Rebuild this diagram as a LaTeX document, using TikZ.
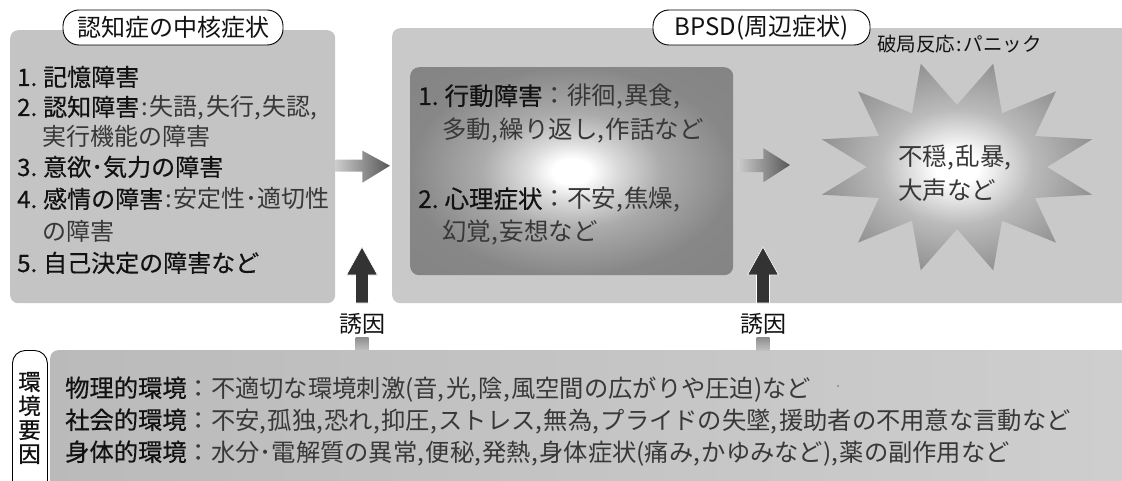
\documentclass[tikz,border=0pt]{standalone}
\usepackage{fontspec}
\setmainfont{Noto Sans CJK JP}
\newfontfamily\jpb{Noto Sans CJK JP}[FakeBold=0.5]
\usetikzlibrary{calc}
\definecolor{inkd}{gray}{0.07}
\definecolor{inkl}{gray}{0.22}
\definecolor{panelL}{gray}{0.77}
\definecolor{panelM}{gray}{0.79}
\definecolor{glowA}{gray}{0.86}
\definecolor{glowB}{gray}{0.67}
\definecolor{glowC}{gray}{0.53}
\definecolor{glowD}{gray}{0.50}
\definecolor{starB}{gray}{0.73}
\definecolor{starC}{gray}{0.58}
\pgfdeclareradialshading{innerglow}{\pgfpoint{0bp}{0bp}}{color(0bp)=(white); color(3bp)=(white); color(7bp)=(glowA); color(14bp)=(glowB); color(25bp)=(glowC); color(50bp)=(glowD)}
\pgfdeclareradialshading{starglow}{\pgfpoint{0bp}{0bp}}{color(0bp)=(white); color(4bp)=(white); color(14bp)=(starB); color(25bp)=(starC); color(50bp)=(starC)}
\newcommand\cma{\makebox[0.34em][l]{,}}
\newcommand\cln{\makebox[0.45em][c]{:}}
\newcommand\emp[1]{{\jpb\color{inkd}#1}}
\begin{document}
\begin{tikzpicture}[x=1pt,y=-1pt,
  panel/.style={rounded corners=8pt, inner sep=0pt, anchor=north west},
  tab/.style={draw=black, line width=0.9pt, fill=white, rounded corners=16pt, inner sep=0pt, minimum height=35pt, text=inkd, font=\fontsize{24}{28}\selectfont},
  txt/.style={inner sep=0pt, anchor=base west, text=inkl, font=\fontsize{24}{28}\selectfont},
  envtxt/.style={inner sep=0pt, anchor=base west, text=inkl, font=\fontsize{24.3}{28}\selectfont},
  smalltxt/.style={inner sep=0pt, anchor=base west, text=inkd, font=\fontsize{19.5}{24}\selectfont},
  cause/.style={inner sep=0pt, text=inkd, font=\fontsize{23}{24}\selectfont},
  uparrow/.style={fill=black!80, draw=white, line width=0.6pt},
  flowarrow/.style={left color=black!20, right color=black!66, draw=none},
  tick/.style={top color=black!45, bottom color=black!25}
]
\useasboundingbox (0,0) rectangle (1122,481);
\clip (0,0) rectangle (1122,481);

% panels
\node[panel, fill=panelL, minimum width=325pt, minimum height=273pt] (core) at (10,30) {};
\node[panel, fill=panelM, minimum width=760pt, minimum height=275pt] (bpsd) at (392,28) {};
\node[panel, rounded corners=9pt, shade, shading=innerglow, minimum width=323pt, minimum height=208pt] (inner) at (410,67) {};
\node[panel, left color=black!27, right color=black!19, minimum width=1100pt, minimum height=200pt] (env) at (50,350) {};
\node[panel, draw=black, line width=0.9pt, fill=white, rounded corners=13pt, minimum width=35pt, minimum height=170pt] (envtab) at (12,350) {};

% burst
\coordinate (burst) at (957,167);
\shade[shading=starglow] ($(burst)+({140*cos(15)},{-107*sin(15)})$)
  \foreach \k in {0,...,11} { -- ($(burst)+({90*cos(30*\k+30)},{-62*sin(30*\k+30)})$) -- ($(burst)+({140*cos(30*\k+45)},{-107*sin(30*\k+45)})$) } -- cycle;

% tabs
\node[tab, minimum width=220pt] (coretitle) at (173,27.5) {認知症の中核症状};
\node[tab, minimum width=217pt] (bpsdtitle) at (761.5,27.5) {BPSD(周辺症状)};

% core symptoms
\node[txt] (c1) at (17,86) {\emp{1.\hspace{6pt}記憶障害}};
\node[txt] (c2) at (17,116) {\emp{2.\hspace{6pt}認知障害}\cln 失語\cma 失行\cma 失認\cma};
\node[txt] (c3) at (42,146) {実行機能の障害};
\node[txt] (c4) at (17,176) {\emp{3.\hspace{6pt}意欲･気力の障害}};
\node[txt] (c5) at (17,208) {\emp{4.\hspace{6pt}感情の障害}\cln 安定性･適切性};
\node[txt] (c6) at (42,241) {の障害};
\node[txt] (c7) at (17,272) {\emp{5.\hspace{6pt}自己決定の障害など}};

% BPSD
\node[txt, font=\fontsize{24.5}{28}\selectfont] (b1) at (418,105) {\emp{1.\hspace{6pt}行動障害}：徘徊\cma 異食\cma};
\node[txt, font=\fontsize{24.5}{28}\selectfont] (b2) at (442,139) {多動\cma 繰り返し\cma 作話など};
\node[txt, font=\fontsize{24.5}{28}\selectfont] (b3) at (418,208) {\emp{2.\hspace{6pt}心理症状}：不安\cma 焦燥\cma};
\node[txt, font=\fontsize{24.5}{28}\selectfont] (b4) at (442,241) {幻覚\cma 妄想など};

\node[smalltxt] (panic) at (877,52) {破局反応\cln パニック};
\node[txt, font=\fontsize{24.5}{28}\selectfont] (s1) at (898,166) {不穏\cma 乱暴\cma};
\node[txt, font=\fontsize{24.5}{28}\selectfont] (s2) at (898,200) {大声など};

% flow arrows
\path[flowarrow] ($(core.east)+(0,-7)$) -- ($(core.east)+(27,-7)$) -- ($(core.east)+(27,-16)$) -- ($(bpsd.west)+(-2,0)$) -- ($(core.east)+(27,16)$) -- ($(core.east)+(27,5)$) -- ($(core.east)+(0,5)$) -- cycle;
\path[flowarrow] ($(inner.east)+(4,-12)$) -- ($(inner.east)+(30,-12)$) -- ($(inner.east)+(30,-23)$) -- ($(burst)+(-167,-2)$) -- ($(inner.east)+(30,11)$) -- ($(inner.east)+(30,1)$) -- ($(inner.east)+(4,1)$) -- cycle;

% causes
\node[cause] (cause1) at (362,324) {誘因};
\node[cause] (cause2) at (763,324) {誘因};
\foreach \c in {cause1,cause2}{
  \path[uparrow] ($(\c.center)+(-6.5,-21)$) -- ++(0,-28) -- ++(-9,0) -- ++(15.5,-28) -- ++(15.5,28) -- ++(-9,0) -- ++(0,28) -- cycle;
  \path[tick] ($(\c.center)+(-6.5,13)$) rectangle ++(13,13);
}

% environment
\node[cause, align=center, font=\fontsize{22.5}{24}\selectfont] (envlabel) at (29.5,418) {\emp{環}\\\emp{境}\\\emp{要}\\\emp{因}};
\node[envtxt] (e1) at (65,397) {\emp{物理的環境}：不適切な環境刺激(音\cma 光\cma 陰\cma 風空間の広がりや圧迫)など};
\node[envtxt] (e2) at (65,429) {\emp{社会的環境}：不安\cma 孤独\cma 恐れ\cma 抑圧\cma ストレス\cma 無為\cma プライドの失墜\cma 援助者の不用意な言動など};
\node[envtxt] (e3) at (65,461) {\emp{身体的環境}：水分･電解質の異常\cma 便秘\cma 発熱\cma 身体症状(痛み\cma かゆみなど)\cma 薬の副作用など};
\fill[black!45] (838,386) circle (1.1);
\end{tikzpicture}
\end{document}
